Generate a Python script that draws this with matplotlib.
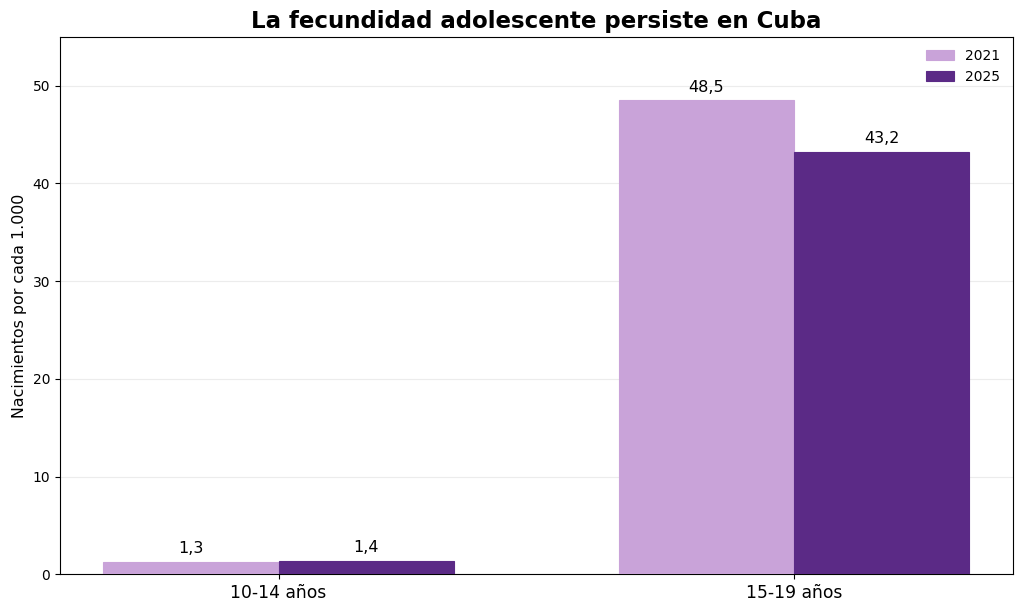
import matplotlib
matplotlib.use("Agg")
import matplotlib.pyplot as plt
import numpy as np

categories = ["10-14 años", "15-19 años"]
series_names = ["2021", "2025"]
values_2021 = [1.3, 48.5]
values_2025 = [1.4, 43.2]
colors = ["#C9A3D9", "#5B2A86"]

fig, ax = plt.subplots(figsize=(10.24, 6.11), dpi=100)
fig.subplots_adjust(left=0.0586, right=0.989, top=0.94, bottom=0.06)

x = np.arange(len(categories))
w = 0.34
b1 = ax.bar(x - w/2, values_2021, w, color=colors[0], label=series_names[0], zorder=3,
            edgecolor=colors[0], linewidth=0.8)
b2 = ax.bar(x + w/2, values_2025, w, color=colors[1], label=series_names[1], zorder=3,
            edgecolor=colors[1], linewidth=0.8)

for bars in (b1, b2):
    for r in bars:
        h = r.get_height()
        ax.annotate(f"{h:.1f}".replace(".", ","), (r.get_x() + r.get_width()/2, h),
                    xytext=(0, 4), textcoords="offset points", ha="center", va="bottom",
                    fontsize=11.5)

ax.set_ylim(0, 55)
ax.set_xticks(x)
ax.set_xticklabels(categories, fontsize=12.3)
ax.tick_params(axis="y", labelsize=10)
ax.set_ylabel("Nacimientos por cada 1.000", fontsize=11.4)
ax.set_title("La fecundidad adolescente persiste en Cuba", fontsize=16.5, fontweight="bold")
ax.yaxis.grid(True, color="#ececec", linewidth=0.8, zorder=0)
ax.set_axisbelow(True)
ax.legend(frameon=False, loc="upper right", fontsize=10)

fig.savefig("out.png", dpi=100)
